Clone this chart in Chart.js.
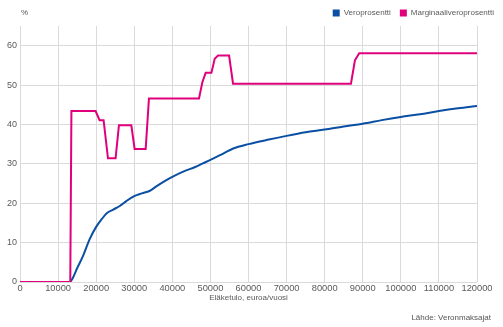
<!DOCTYPE html>
<html lang="fi">

<head>
    <meta charset="UTF-8">
    <title>Veroprosentti ja marginaaliveroprosentti</title>
    <style>
        body {
            margin: 0;
            padding: 0;
            background-color: #fff;
            font-family: "Liberation Sans", Arial, sans-serif;
        }

        #wrap {
            position: relative;
            width: 503px;
            height: 327px;
        }

        .note {
            position: absolute;
            font-size: 8px;
            color: #555;
            white-space: nowrap;
        }

        #unit {
            left: 21px;
            top: 8px;
        }

        #source {
            right: 12px;
            top: 313px;
        }
    </style>
</head>

<body>
    <div id="wrap">
        <canvas id="taxChart" width="503" height="327"></canvas>
        <div class="note" id="unit">%</div>
        <div class="note" id="source">Lähde: Veronmaksajat</div>
    </div>

    <script src="https://cdn.jsdelivr.net/npm/chart.js"></script>
    <script>
        // eläketulo (euroa/vuosi) ja prosentit
        const veroX = [0, 13100, 13900, 15000, 16500, 18300, 20000, 21500, 22700, 24500, 26200, 28000, 30000, 32000,
            34000, 36000, 38000, 40000, 43000, 46000, 48000, 50000, 52500, 56000, 60000, 65000, 70000, 75000, 80000, 85000,
            90000, 95000, 100000, 105000, 110000, 115000, 120000];
        const veroY = [0, 0, 1.1, 3.5, 6.5, 10.9, 14, 16, 17.4, 18.4, 19.3, 20.6, 21.8, 22.5,
            23.1, 24.4, 25.6, 26.7, 28.1, 29.2, 30.1, 31.0, 32.2, 33.9, 35.0, 36.1, 37.1, 38.0, 38.7, 39.5,
            40.2, 41.1, 41.9, 42.6, 43.4, 44.1, 44.7];

        const margX = [0, 13200, 13500, 19850, 20900, 21950, 23100, 25100, 25980, 29230, 30100, 33000, 33860, 47000,
            47900, 48760, 50260, 51130, 52000, 54900, 55940, 86900, 87950, 89070, 120000];
        const margY = [0, 0, 43.4, 43.4, 41.1, 41.1, 31.4, 31.4, 39.8, 39.8, 33.8, 33.8, 46.6, 46.6,
            50.8, 53.1, 53.1, 56.7, 57.5, 57.5, 50.35, 50.35, 56.3, 58.1, 58.1];

        const seriesNames = ['Veroprosentti', 'Marginaaliveroprosentti'];
        const xTicks = [0, 10000, 20000, 30000, 40000, 50000, 60000, 70000, 80000, 90000, 100000, 110000, 120000];
        const yTicks = [0, 10, 20, 30, 40, 50, 60];

        const blue = '#0a4fa3';
        const magenta = '#e0007c';
        const gridColor = '#dadada';
        const textColor = '#5a5a5a';

        function toPoints(xs, ys) {
            return xs.map((x, i) => ({ x: x, y: ys[i] }));
        }

        Chart.defaults.font.family = '"Liberation Sans", Arial, sans-serif';
        Chart.defaults.color = textColor;

        const ctx = document.getElementById('taxChart').getContext('2d');
        const taxChart = new Chart(ctx, {
            type: 'line',
            data: {
                datasets: [{
                    label: seriesNames[0],
                    data: toPoints(veroX, veroY),
                    borderColor: blue,
                    backgroundColor: blue,
                    borderWidth: 2,
                    pointRadius: 0,
                    cubicInterpolationMode: 'monotone',
                    order: 1
                }, {
                    label: seriesNames[1],
                    data: toPoints(margX, margY),
                    borderColor: magenta,
                    backgroundColor: magenta,
                    borderWidth: 2,
                    pointRadius: 0,
                    tension: 0,
                    order: 0
                }]
            },
            options: {
                responsive: false,
                animation: false,
                layout: {
                    padding: { left: 0, right: 0, top: 0, bottom: 23 }
                },
                plugins: {
                    tooltip: { enabled: false },
                    legend: {
                        position: 'top',
                        align: 'end',
                        maxHeight: 26,
                        labels: {
                            boxWidth: 7,
                            boxHeight: 7,
                            padding: 9,
                            font: { size: 8 },
                            color: textColor,
                            generateLabels: function (chart) {
                                const items = Chart.defaults.plugins.legend.labels.generateLabels(chart);
                                items.forEach(it => { it.lineWidth = 0; });
                                return items.sort((a, b) => a.datasetIndex - b.datasetIndex);
                            }
                        }
                    }
                },
                scales: {
                    x: {
                        type: 'linear',
                        min: 0,
                        max: 120000,
                        afterBuildTicks: function (scale) {
                            scale.ticks = xTicks.map(v => ({ value: v }));
                        },
                        afterFit: function (scale) {
                            scale.height = 22;
                            scale.paddingRight = 26;
                        },
                        grid: { color: gridColor, drawTicks: false },
                        border: { display: false },
                        ticks: {
                            maxRotation: 0,
                            autoSkip: false,
                            padding: 1,
                            font: { size: 9.3 },
                            callback: v => String(v)
                        },
                        title: {
                            display: true,
                            text: 'Eläketulo, euroa/vuosi',
                            font: { size: 8 },
                            padding: { top: 0, bottom: 1 }
                        }
                    },
                    y: {
                        min: 0,
                        max: 65,
                        afterBuildTicks: function (scale) {
                            scale.ticks = yTicks.map(v => ({ value: v }));
                        },
                        afterFit: function (scale) {
                            scale.width = 20;
                        },
                        grid: { color: gridColor, drawTicks: false },
                        border: { display: false },
                        ticks: {
                            padding: 3,
                            font: { size: 9 }
                        }
                    }
                }
            }
        });
    </script>
</body>

</html>
